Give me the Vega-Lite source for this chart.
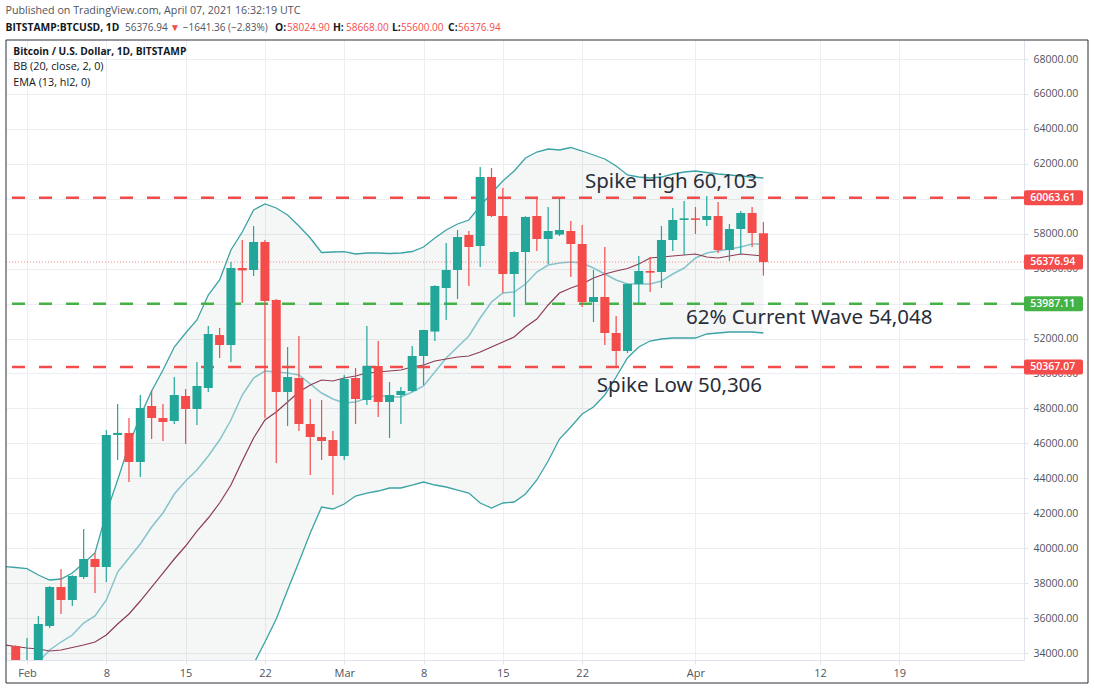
{
  "$schema": "https://vega.github.io/schema/vega-lite/v6.json",
  "width": 1018,
  "height": 620,
  "autosize": "none",
  "padding": {"left": 6, "top": 40, "right": 70, "bottom": 30},
  "background": "#ffffff",
  "view": {"stroke": null},
  "config": {"text": {"font": "Open Sans"}, "axis": {"labelFont": "Open Sans", "title": null, "labelOverlap": false, "labelBound": false, "labelSeparation": 0}},
  "datasets": {
    "candles": [
      {"date":"2021-01-30","upper":38951,"basis":32455,"lower":28000,"ema":34458},
      {"date":"2021-01-31","open":34400,"high":34450,"low":32900,"close":33100,"upper":38894,"basis":32569,"lower":28000,"ema":34372},
      {"date":"2021-02-01","open":33100,"high":34859,"low":32300,"close":33500,"upper":38825,"basis":32912,"lower":28100,"ema":34286},
      {"date":"2021-02-02","open":33500,"high":36118,"low":33300,"close":35660,"upper":38465,"basis":33485,"lower":28100,"ema":34229},
      {"date":"2021-02-03","open":35545,"high":37830,"low":35430,"close":37778,"upper":38179,"basis":34172,"lower":28200,"ema":34114},
      {"date":"2021-02-04","open":37778,"high":38808,"low":36232,"close":37034,"upper":38236,"basis":34630,"lower":28200,"ema":34172},
      {"date":"2021-02-05","open":37034,"high":38450,"low":36690,"close":38408,"upper":38579,"basis":35030,"lower":28300,"ema":34315},
      {"date":"2021-02-06","open":38350,"high":41098,"low":38236,"close":39380,"upper":39152,"basis":35717,"lower":28300,"ema":34458},
      {"date":"2021-02-07","open":39380,"high":39724,"low":37434,"close":38923,"upper":39724,"basis":36118,"lower":28400,"ema":34630},
      {"date":"2021-02-08","open":38923,"high":46765,"low":38064,"close":46478,"upper":42014,"basis":37034,"lower":28400,"ema":35030},
      {"date":"2021-02-09","open":46478,"high":48253,"low":45047,"close":46600,"upper":43903,"basis":38636,"lower":28500,"ema":35660},
      {"date":"2021-02-10","open":46593,"high":47451,"low":43788,"close":44933,"upper":45906,"basis":39438,"lower":28500,"ema":36232},
      {"date":"2021-02-11","open":44933,"high":48768,"low":44074,"close":48024,"upper":47566,"basis":40239,"lower":28600,"ema":36976},
      {"date":"2021-02-12","open":48138,"high":49054,"low":46250,"close":47451,"upper":48997,"basis":41212,"lower":28700,"ema":37778},
      {"date":"2021-02-13","open":47451,"high":48253,"low":46135,"close":47223,"upper":50199,"basis":42014,"lower":28800,"ema":38579},
      {"date":"2021-02-14","open":47280,"high":49799,"low":47108,"close":48768,"upper":51515,"basis":43101,"lower":29000,"ema":39381},
      {"date":"2021-02-15","open":48711,"high":49112,"low":45963,"close":47967,"upper":52317,"basis":43845,"lower":29200,"ema":40125},
      {"date":"2021-02-16","open":47967,"high":50657,"low":47051,"close":49283,"upper":53061,"basis":44475,"lower":29400,"ema":40983},
      {"date":"2021-02-17","open":49169,"high":52718,"low":48940,"close":52260,"upper":54492,"basis":45276,"lower":29700,"ema":41727},
      {"date":"2021-02-18","open":52200,"high":52603,"low":50886,"close":51630,"upper":55351,"basis":46192,"lower":30100,"ema":42586},
      {"date":"2021-02-19","open":51630,"high":56381,"low":50657,"close":56038,"upper":57068,"basis":47337,"lower":30500,"ema":43616},
      {"date":"2021-02-20","open":56038,"high":57640,"low":54034,"close":55900,"upper":58098,"basis":48768,"lower":32000,"ema":44990},
      {"date":"2021-02-21","open":55923,"high":58442,"low":55580,"close":57526,"upper":59357,"basis":49741,"lower":33370,"ema":46307},
      {"date":"2021-02-22","open":57526,"high":57640,"low":47451,"close":54149,"upper":59701,"basis":50142,"lower":34630,"ema":47337},
      {"date":"2021-02-23","open":54206,"high":54263,"low":44876,"close":48940,"upper":59472,"basis":50084,"lower":35946,"ema":47795},
      {"date":"2021-02-24","open":48940,"high":51516,"low":46994,"close":49799,"upper":59071,"basis":50027,"lower":37606,"ema":48367},
      {"date":"2021-02-25","open":49741,"high":52145,"low":46708,"close":47108,"upper":58441,"basis":49913,"lower":39209,"ema":48940},
      {"date":"2021-02-26","open":47108,"high":48539,"low":44189,"close":46364,"upper":57755,"basis":49398,"lower":40869,"ema":49340},
      {"date":"2021-02-27","open":46364,"high":48482,"low":45047,"close":46135,"upper":56925,"basis":48882,"lower":42357,"ema":49627},
      {"date":"2021-02-28","open":46192,"high":46708,"low":43044,"close":45276,"upper":56953,"basis":48539,"lower":42243,"ema":49569},
      {"date":"2021-03-01","open":45276,"high":49913,"low":45047,"close":49684,"upper":56970,"basis":48310,"lower":42529,"ema":49741},
      {"date":"2021-03-02","open":49741,"high":50314,"low":47108,"close":48539,"upper":56839,"basis":48367,"lower":42987,"ema":49855},
      {"date":"2021-03-03","open":48482,"high":52718,"low":48196,"close":50428,"upper":56896,"basis":48596,"lower":43158,"ema":50027},
      {"date":"2021-03-04","open":50428,"high":51859,"low":47509,"close":48368,"upper":56896,"basis":48768,"lower":43273,"ema":50084},
      {"date":"2021-03-05","open":48368,"high":49512,"low":46307,"close":48768,"upper":56867,"basis":48653,"lower":43445,"ema":50142},
      {"date":"2021-03-06","open":48768,"high":49226,"low":47108,"close":48997,"upper":56896,"basis":48653,"lower":43445,"ema":50199},
      {"date":"2021-03-07","open":48997,"high":51573,"low":48940,"close":51001,"upper":56982,"basis":48940,"lower":43616,"ema":50371},
      {"date":"2021-03-08","open":51001,"high":52500,"low":49341,"close":52489,"upper":57239,"basis":49283,"lower":43788,"ema":50485},
      {"date":"2021-03-09","open":52400,"high":55050,"low":51859,"close":55008,"upper":57755,"basis":50084,"lower":43616,"ema":50714},
      {"date":"2021-03-10","open":54893,"high":57469,"low":53061,"close":55923,"upper":58213,"basis":50886,"lower":43502,"ema":50829},
      {"date":"2021-03-11","open":55923,"high":58213,"low":54263,"close":57812,"upper":58556,"basis":51515,"lower":43330,"ema":50943},
      {"date":"2021-03-12","open":57926,"high":58156,"low":55008,"close":57240,"upper":58785,"basis":52145,"lower":43158,"ema":51000},
      {"date":"2021-03-13","open":57297,"high":61819,"low":56095,"close":61247,"upper":59586,"basis":53175,"lower":42586,"ema":51229},
      {"date":"2021-03-14","open":61247,"high":61762,"low":58957,"close":59014,"upper":60330,"basis":54091,"lower":42300,"ema":51515},
      {"date":"2021-03-15","open":59014,"high":60617,"low":54606,"close":55694,"upper":61017,"basis":54606,"lower":42586,"ema":51802},
      {"date":"2021-03-16","open":55694,"high":57000,"low":53233,"close":56954,"upper":61590,"basis":54664,"lower":42643,"ema":52088},
      {"date":"2021-03-17","open":56954,"high":59000,"low":54034,"close":58957,"upper":62334,"basis":55122,"lower":43101,"ema":52660},
      {"date":"2021-03-18","open":59014,"high":60102,"low":57011,"close":57697,"upper":62677,"basis":55808,"lower":43903,"ema":53118},
      {"date":"2021-03-19","open":57697,"high":59529,"low":56267,"close":58156,"upper":62849,"basis":56209,"lower":44990,"ema":53920},
      {"date":"2021-03-20","open":57950,"high":60045,"low":57870,"close":58213,"upper":62792,"basis":56324,"lower":46249,"ema":54606},
      {"date":"2021-03-21","open":58156,"high":58728,"low":55523,"close":57412,"upper":62935,"basis":56381,"lower":46936,"ema":54893},
      {"date":"2021-03-22","open":57412,"high":58499,"low":53805,"close":54092,"upper":62734,"basis":56324,"lower":47680,"ema":55122},
      {"date":"2021-03-23","open":54092,"high":55923,"low":52947,"close":54378,"upper":62506,"basis":56037,"lower":48081,"ema":55465},
      {"date":"2021-03-24","open":54378,"high":57240,"low":51630,"close":52317,"upper":62277,"basis":55694,"lower":48768,"ema":55694},
      {"date":"2021-03-25","open":52317,"high":53290,"low":50314,"close":51287,"upper":61876,"basis":55351,"lower":49798,"ema":55866},
      {"date":"2021-03-26","open":51287,"high":55150,"low":51173,"close":55122,"upper":61361,"basis":55122,"lower":50886,"ema":56009},
      {"date":"2021-03-27","open":55122,"high":56725,"low":54034,"close":55866,"upper":61246,"basis":55122,"lower":51515,"ema":56266},
      {"date":"2021-03-28","open":55866,"high":56668,"low":54664,"close":55770,"upper":61189,"basis":55122,"lower":51859,"ema":56610},
      {"date":"2021-03-29","open":55808,"high":58442,"low":54893,"close":57640,"upper":61246,"basis":55293,"lower":51973,"ema":56667},
      {"date":"2021-03-30","open":57640,"high":59472,"low":57011,"close":58785,"upper":61418,"basis":55694,"lower":52031,"ema":56724},
      {"date":"2021-03-31","open":58785,"high":59873,"low":56782,"close":58880,"upper":61532,"basis":56037,"lower":52031,"ema":56782},
      {"date":"2021-04-01","open":58880,"high":59529,"low":57984,"close":58790,"upper":61590,"basis":56610,"lower":52031,"ema":56839},
      {"date":"2021-04-02","open":58785,"high":60159,"low":58442,"close":59014,"upper":61504,"basis":56896,"lower":52260,"ema":56667},
      {"date":"2021-04-03","open":59014,"high":59816,"low":56896,"close":57068,"upper":61418,"basis":57010,"lower":52317,"ema":56610},
      {"date":"2021-04-04","open":57068,"high":58556,"low":56438,"close":58270,"upper":61361,"basis":57125,"lower":52374,"ema":56724},
      {"date":"2021-04-05","open":58270,"high":59300,"low":56839,"close":59186,"upper":61303,"basis":57239,"lower":52374,"ema":56839},
      {"date":"2021-04-06","open":59186,"high":59529,"low":57240,"close":58041,"upper":61246,"basis":57411,"lower":52374,"ema":56782},
      {"date":"2021-04-07","open":58024.9,"high":58668,"low":55600,"close":56376.94,"upper":61189,"basis":57411,"lower":52317,"ema":56724}
    ],
    "levels": [
      {"price":60063.61,"kind":"spike"},
      {"price":53987.11,"kind":"fib"},
      {"price":50367.07,"kind":"spike"}
    ],
    "tags": [
      {"price":60063.61,"kind":"spike"},
      {"price":56376.94,"kind":"last"},
      {"price":53987.11,"kind":"fib"},
      {"price":50367.07,"kind":"spike"}
    ],
    "published": [
      {"at":"2021-01-30T02:30:00Z","level":70748,"label":"Published on TradingView.com, April 07, 2021 16:32:19 UTC"}
    ],
    "head": [
      {"at":"2021-02-09T15:30:00Z","level":69775,"label":"56376.94","tone":"text"},
      {"at":"2021-02-14T18:00:00Z","level":69775,"label":"−1641.36 (−2.83%)","tone":"text"},
      {"at":"2021-02-23T23:00:00Z","level":69775,"label":"58024.90","tone":"down"},
      {"at":"2021-03-01T04:00:00Z","level":69775,"label":"58668.00","tone":"down"},
      {"at":"2021-03-06T00:00:00Z","level":69775,"label":"55600.00","tone":"down"},
      {"at":"2021-03-11T01:00:00Z","level":69775,"label":"56376.94","tone":"down"}
    ],
    "headBold": [
      {"at":"2021-01-30T02:30:00Z","level":69775,"label":"BITSTAMP:BTCUSD, 1D"},
      {"at":"2021-02-22T21:30:00Z","level":69775,"label":"O:"},
      {"at":"2021-02-28T00:00:00Z","level":69775,"label":"H:"},
      {"at":"2021-03-05T05:00:00Z","level":69775,"label":"L:"},
      {"at":"2021-03-10T04:00:00Z","level":69775,"label":"C:"}
    ],
    "legendTitle": [
      {"at":"2021-01-30T19:00:00Z","level":68428,"label":"Bitcoin / U.S. Dollar, 1D, BITSTAMP"}
    ],
    "legendLines": [
      {"at":"2021-01-30T19:00:00Z","level":67570,"label":"BB (20, close, 2, 0)"},
      {"at":"2021-01-30T19:00:00Z","level":66654,"label":"EMA (13, hl2, 0)"}
    ],
    "notes": [
      {"at":"2021-03-22T06:00:00Z","level":60960,"label":"Spike High 60,103"},
      {"at":"2021-03-31T04:00:00Z","level":53175,"label":"62% Current Wave 54,048"},
      {"at":"2021-03-23T07:00:00Z","level":49283,"label":"Spike Low 50,306"}
    ]
  },
  "layer": [
    {
      "data": {"name": "candles"},
      "mark": {"type": "area", "clip": true, "color": "#2f5f55", "opacity": 0.05},
      "encoding": {
        "x": {
          "field": "date",
          "type": "temporal",
          "scale": {
            "type": "utc",
            "padding": 0,
            "domain": [
              {"year":2021,"month":"jan","date":30,"hours":3,"minutes":30,"utc":true},
              {"year":2021,"month":"apr","date":30,"utc":true}
            ]
          },
          "axis": {
            "title": null,
            "values": [
              {"year":2021,"month":"feb","date":1,"utc":true},
              {"year":2021,"month":"feb","date":8,"utc":true},
              {"year":2021,"month":"feb","date":15,"utc":true},
              {"year":2021,"month":"feb","date":22,"utc":true},
              {"year":2021,"month":"mar","date":1,"utc":true},
              {"year":2021,"month":"mar","date":8,"utc":true},
              {"year":2021,"month":"mar","date":15,"utc":true},
              {"year":2021,"month":"mar","date":22,"utc":true},
              {"year":2021,"month":"apr","date":1,"utc":true},
              {"year":2021,"month":"apr","date":12,"utc":true},
              {"year":2021,"month":"apr","date":19,"utc":true}
            ],
            "labelExpr": "utcdate(datum.value) == 1 ? utcFormat(datum.value, '%b') : utcFormat(datum.value, '%-d')",
            "labelFontSize": 11,
            "labelColor": "#50535e",
            "labelPadding": 3,
            "labelFlush": false,
            "labelOverlap": false,
            "tickSize": 4,
            "tickColor": "#e0e3eb",
            "domainColor": "#e0e3eb",
            "grid": true,
            "gridColor": "#eceef2",
            "gridWidth": 1
          }
        },
        "y": {
          "field": "upper",
          "type": "quantitative",
          "scale": {"domain": [33600, 69088], "zero": false, "nice": false, "padding": 0},
          "axis": {
            "title": null,
            "orient": "right",
            "values": [34000,36000,38000,40000,42000,44000,46000,48000,50000,52000,54000,56000,58000,60000,62000,64000,66000,68000],
            "tickCount": 30,
            "format": ".2f",
            "labelFontSize": 10.5,
            "labelColor": "#50535e",
            "labelPadding": 5,
            "labelOverlap": false,
            "tickSize": 4,
            "tickColor": "#e0e3eb",
            "domainColor": "#e0e3eb",
            "grid": true,
            "gridColor": "#eceef2",
            "gridWidth": 1
          }
        },
        "y2": {"field": "lower"}
      }
    },
    {
      "data": {"name": "candles"},
      "mark": {"type": "line", "clip": true, "color": "#3ba3a5", "strokeWidth": 1.3},
      "encoding": {
        "x": {"field": "date", "type": "temporal"},
        "y": {"field": "upper", "type": "quantitative"}
      }
    },
    {
      "data": {"name": "candles"},
      "mark": {"type": "line", "clip": true, "color": "#3ba3a5", "strokeWidth": 1.3},
      "encoding": {
        "x": {"field": "date", "type": "temporal"},
        "y": {"field": "lower", "type": "quantitative"}
      }
    },
    {
      "data": {"name": "candles"},
      "mark": {"type": "line", "clip": true, "color": "#84c4cc", "strokeWidth": 1.5},
      "encoding": {
        "x": {"field": "date", "type": "temporal"},
        "y": {"field": "basis", "type": "quantitative"}
      }
    },
    {
      "data": {"name": "candles"},
      "mark": {"type": "line", "clip": true, "color": "#8e3b55", "strokeWidth": 1.2},
      "encoding": {
        "x": {"field": "date", "type": "temporal"},
        "y": {"field": "ema", "type": "quantitative"}
      }
    },
    {
      "data": {"name": "levels"},
      "mark": {"type": "rule", "strokeWidth": 2.5, "strokeDash": [13, 14]},
      "encoding": {
        "y": {"field": "price", "type": "quantitative"},
        "color": {"condition": {"test": "datum.kind == 'fib'", "value": "#45b245"}, "value": "#f44b4b"}
      }
    },
    {
      "data": {"values": [{"price": 56376.94}]},
      "mark": {"type": "rule", "strokeWidth": 1, "strokeDash": [1, 2], "color": "#f58a8a"},
      "encoding": {
        "y": {"field": "price", "type": "quantitative"}
      }
    },
    {
      "data": {"name": "candles"},
      "transform": [{"filter": "isValid(datum.open)"}],
      "mark": {"type": "rule", "clip": true, "strokeWidth": 1.2},
      "encoding": {
        "x": {"field": "date", "type": "temporal"},
        "y": {"field": "low", "type": "quantitative"},
        "y2": {"field": "high"},
        "color": {"condition": {"test": "datum.close >= datum.open", "value": "#22a69a"}, "value": "#f44b4b"}
      }
    },
    {
      "data": {"name": "candles"},
      "transform": [{"filter": "isValid(datum.open)"}],
      "mark": {"type": "bar", "clip": true, "size": 9},
      "encoding": {
        "x": {"field": "date", "type": "temporal"},
        "y": {"field": "open", "type": "quantitative"},
        "y2": {"field": "close"},
        "color": {"condition": {"test": "datum.close >= datum.open", "value": "#22a69a"}, "value": "#f44b4b"}
      }
    },
    {
      "data": {"name": "tags"},
      "mark": {"type": "bar", "size": 15, "cornerRadius": 2},
      "encoding": {
        "x": {"datum": {"year":2021,"month":"apr","date":30,"utc":true}, "type": "temporal"},
        "x2": {"datum": {"year":2021,"month":"may","date":5,"hours":5,"utc":true}},
        "y": {"field": "price", "type": "quantitative"},
        "color": {"condition": {"test": "datum.kind == 'fib'", "value": "#45b245"}, "value": "#f44b4b"}
      }
    },
    {
      "data": {"name": "tags"},
      "mark": {"type": "text", "color": "#ffffff", "fontSize": 10.5, "fontWeight": 600, "align": "center", "baseline": "middle"},
      "encoding": {
        "x": {"datum": {"year":2021,"month":"may","date":2,"hours":13,"utc":true}, "type": "temporal"},
        "y": {"field": "price", "type": "quantitative"},
        "text": {"field": "price", "type": "quantitative", "format": ".2f"}
      }
    },
    {
      "data": {"values": [{"id": "frame"}]},
      "mark": {"type": "rect", "filled": false, "stroke": "#2a2e39", "strokeWidth": 1},
      "encoding": {
        "x": {"datum": {"year":2021,"month":"jan","date":30,"hours":3,"minutes":30,"utc":true}, "type": "temporal"},
        "x2": {"datum": {"year":2021,"month":"may","date":5,"hours":15,"minutes":36,"utc":true}},
        "y": {"datum": 69088, "type": "quantitative"},
        "y2": {"datum": 32283}
      }
    },
    {
      "data": {"name": "published"},
      "mark": {"type": "text", "align": "left", "baseline": "middle", "fontSize": 10.7, "color": "#50535e"},
      "encoding": {
        "x": {"field": "at", "type": "temporal"},
        "y": {"field": "level", "type": "quantitative"},
        "text": {"field": "label"}
      }
    },
    {
      "data": {"name": "head"},
      "mark": {"type": "text", "align": "left", "baseline": "middle", "fontSize": 10},
      "encoding": {
        "x": {"field": "at", "type": "temporal"},
        "y": {"field": "level", "type": "quantitative"},
        "text": {"field": "label"},
        "color": {"condition": {"test": "datum.tone == 'down'", "value": "#f44b4b"}, "value": "#50535e"}
      }
    },
    {
      "data": {"name": "headBold"},
      "mark": {"type": "text", "align": "left", "baseline": "middle", "fontSize": 10.3, "fontWeight": "bold", "color": "#131722"},
      "encoding": {
        "x": {"field": "at", "type": "temporal"},
        "y": {"field": "level", "type": "quantitative"},
        "text": {"field": "label"}
      }
    },
    {
      "data": {"values": [{"at": "2021-02-13T15:00:00Z", "level": 69775, "label": "▼"}]},
      "mark": {"type": "text", "align": "left", "baseline": "middle", "fontSize": 10, "color": "#f44b4b"},
      "encoding": {
        "x": {"field": "at", "type": "temporal"},
        "y": {"field": "level", "type": "quantitative"},
        "text": {"field": "label"}
      }
    },
    {
      "data": {"name": "legendTitle"},
      "mark": {"type": "text", "align": "left", "baseline": "middle", "fontSize": 10.2, "fontWeight": "bold", "color": "#131722"},
      "encoding": {
        "x": {"field": "at", "type": "temporal"},
        "y": {"field": "level", "type": "quantitative"},
        "text": {"field": "label"}
      }
    },
    {
      "data": {"name": "legendLines"},
      "mark": {"type": "text", "align": "left", "baseline": "middle", "fontSize": 10.8, "color": "#131722"},
      "encoding": {
        "x": {"field": "at", "type": "temporal"},
        "y": {"field": "level", "type": "quantitative"},
        "text": {"field": "label"}
      }
    },
    {
      "data": {"name": "notes"},
      "mark": {"type": "text", "align": "left", "baseline": "middle", "font": "Noto Sans", "fontSize": 20.5, "color": "#2a2e39"},
      "encoding": {
        "x": {"field": "at", "type": "temporal"},
        "y": {"field": "level", "type": "quantitative"},
        "text": {"field": "label"}
      }
    }
  ]
}
